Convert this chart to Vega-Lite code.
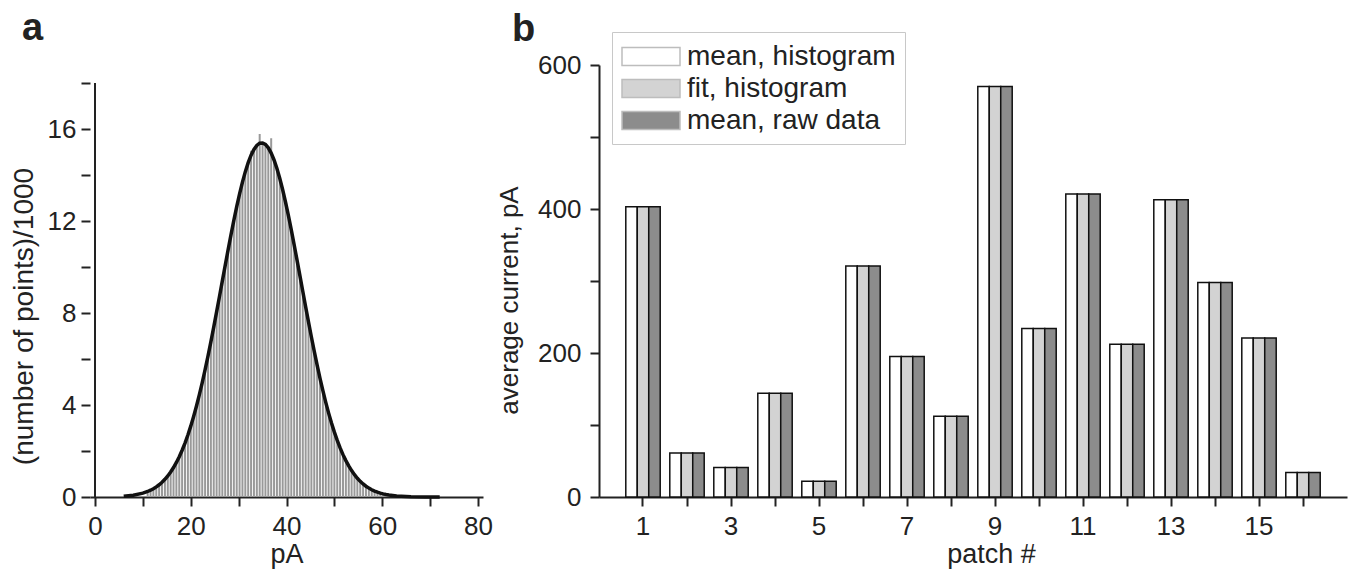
{
  "$schema": "https://vega.github.io/schema/vega-lite/v6.json",
  "background": "white",
  "padding": {"left": 10, "top": 10, "right": 5, "bottom": 5},
  "spacing": 3,
  "columns": 2,
  "align": "none",
  "resolve": {"legend": {"color": "independent"}, "scale": {"color": "independent"}},
  "config": {
    "font": "Liberation Sans",
    "view": {"stroke": null},
    "axis": {
      "grid": false,
      "domainColor": "#222", "domainWidth": 2,
      "tickColor": "#222", "tickWidth": 2, "tickSize": 9,
      "labelFont": "Liberation Sans", "labelFontSize": 26, "labelColor": "#222",
      "labelOverlap": false, "labelFlush": false,
      "titleFont": "Liberation Sans", "titleFontSize": 27, "titleFontWeight": "normal", "titleColor": "#222"
    },
    "title": {"font": "Liberation Sans", "fontSize": 38, "fontWeight": "bold", "color": "#222", "anchor": "start", "frame": "group", "baseline": "alphabetic"}
  },
  "datasets": {
    "hist": [
      {"pA": 11.0, "count": 0.24}, {"pA": 11.6, "count": 0.30}, {"pA": 12.2, "count": 0.36}, {"pA": 12.8, "count": 0.44},
      {"pA": 13.4, "count": 0.53}, {"pA": 14.0, "count": 0.64}, {"pA": 14.6, "count": 0.77}, {"pA": 15.2, "count": 0.92},
      {"pA": 15.8, "count": 1.08}, {"pA": 16.4, "count": 1.28}, {"pA": 17.0, "count": 1.50}, {"pA": 17.6, "count": 1.75},
      {"pA": 18.2, "count": 2.03}, {"pA": 18.8, "count": 2.35}, {"pA": 19.4, "count": 2.70}, {"pA": 20.0, "count": 3.08},
      {"pA": 20.6, "count": 3.50}, {"pA": 21.2, "count": 3.96}, {"pA": 21.8, "count": 4.45}, {"pA": 22.4, "count": 4.98},
      {"pA": 23.0, "count": 5.54}, {"pA": 23.6, "count": 6.13}, {"pA": 24.2, "count": 6.75}, {"pA": 24.8, "count": 7.39},
      {"pA": 25.4, "count": 8.05}, {"pA": 26.0, "count": 8.72}, {"pA": 26.6, "count": 9.40}, {"pA": 27.2, "count": 10.07},
      {"pA": 27.8, "count": 10.75}, {"pA": 28.4, "count": 11.40}, {"pA": 29.0, "count": 12.03}, {"pA": 29.6, "count": 12.63},
      {"pA": 30.2, "count": 13.18}, {"pA": 30.8, "count": 13.69}, {"pA": 31.4, "count": 14.15}, {"pA": 32.0, "count": 14.54},
      {"pA": 32.6, "count": 15.05}, {"pA": 33.2, "count": 15.11}, {"pA": 33.8, "count": 15.29}, {"pA": 34.4, "count": 15.78},
      {"pA": 35.0, "count": 15.40}, {"pA": 35.6, "count": 15.33}, {"pA": 36.2, "count": 15.18}, {"pA": 36.8, "count": 15.60},
      {"pA": 37.4, "count": 14.65}, {"pA": 38.0, "count": 14.28}, {"pA": 38.6, "count": 13.85}, {"pA": 39.2, "count": 13.36},
      {"pA": 39.8, "count": 12.82}, {"pA": 40.4, "count": 12.23}, {"pA": 41.0, "count": 11.61}, {"pA": 41.6, "count": 10.96},
      {"pA": 42.2, "count": 10.30}, {"pA": 42.8, "count": 9.62}, {"pA": 43.4, "count": 8.94}, {"pA": 44.0, "count": 8.27},
      {"pA": 44.6, "count": 7.60}, {"pA": 45.2, "count": 6.96}, {"pA": 45.8, "count": 6.33}, {"pA": 46.4, "count": 5.73},
      {"pA": 47.0, "count": 5.16}, {"pA": 47.6, "count": 4.62}, {"pA": 48.2, "count": 4.12}, {"pA": 48.8, "count": 3.65},
      {"pA": 49.4, "count": 3.22}, {"pA": 50.0, "count": 2.82}, {"pA": 50.6, "count": 2.46}, {"pA": 51.2, "count": 2.13},
      {"pA": 51.8, "count": 1.84}, {"pA": 52.4, "count": 1.58}, {"pA": 53.0, "count": 1.35}, {"pA": 53.6, "count": 1.15},
      {"pA": 54.2, "count": 0.97}, {"pA": 54.8, "count": 0.82}, {"pA": 55.4, "count": 0.68}, {"pA": 56.0, "count": 0.57},
      {"pA": 56.6, "count": 0.47}, {"pA": 57.2, "count": 0.39}, {"pA": 57.8, "count": 0.32}, {"pA": 58.4, "count": 0.26},
      {"pA": 59.0, "count": 0.21}, {"pA": 59.6, "count": 0.17}, {"pA": 60.2, "count": 0.14}, {"pA": 60.8, "count": 0.11},
      {"pA": 61.4, "count": 0.09}
    ],
    "fit": [
      {"pA": 6, "fit": 0.035}, {"pA": 8, "fit": 0.079}, {"pA": 10, "fit": 0.168},
      {"pA": 11.0, "fit": 0.240}, {"pA": 11.6, "fit": 0.295}, {"pA": 12.2, "fit": 0.361}, {"pA": 12.8, "fit": 0.440},
      {"pA": 13.4, "fit": 0.532}, {"pA": 14.0, "fit": 0.641}, {"pA": 14.6, "fit": 0.768}, {"pA": 15.2, "fit": 0.915},
      {"pA": 15.8, "fit": 1.085}, {"pA": 16.4, "fit": 1.280}, {"pA": 17.0, "fit": 1.502}, {"pA": 17.6, "fit": 1.751},
      {"pA": 18.2, "fit": 2.032}, {"pA": 18.8, "fit": 2.347}, {"pA": 19.4, "fit": 2.697}, {"pA": 20.0, "fit": 3.080},
      {"pA": 20.6, "fit": 3.500}, {"pA": 21.2, "fit": 3.956}, {"pA": 21.8, "fit": 4.449}, {"pA": 22.4, "fit": 4.976},
      {"pA": 23.0, "fit": 5.536}, {"pA": 23.6, "fit": 6.126}, {"pA": 24.2, "fit": 6.745}, {"pA": 24.8, "fit": 7.386},
      {"pA": 25.4, "fit": 8.047}, {"pA": 26.0, "fit": 8.718}, {"pA": 26.6, "fit": 9.396}, {"pA": 27.2, "fit": 10.073},
      {"pA": 27.8, "fit": 10.745}, {"pA": 28.4, "fit": 11.398}, {"pA": 29.0, "fit": 12.027}, {"pA": 29.6, "fit": 12.625},
      {"pA": 30.2, "fit": 13.183}, {"pA": 30.8, "fit": 13.692}, {"pA": 31.4, "fit": 14.146}, {"pA": 32.0, "fit": 14.538},
      {"pA": 32.6, "fit": 14.861}, {"pA": 33.2, "fit": 15.113}, {"pA": 33.8, "fit": 15.287}, {"pA": 34.4, "fit": 15.382},
      {"pA": 35.0, "fit": 15.395}, {"pA": 35.6, "fit": 15.328}, {"pA": 36.2, "fit": 15.180}, {"pA": 36.8, "fit": 14.954},
      {"pA": 37.4, "fit": 14.653}, {"pA": 38.0, "fit": 14.283}, {"pA": 38.6, "fit": 13.849}, {"pA": 39.2, "fit": 13.358},
      {"pA": 39.8, "fit": 12.816}, {"pA": 40.4, "fit": 12.231}, {"pA": 41.0, "fit": 11.612}, {"pA": 41.6, "fit": 10.963},
      {"pA": 42.2, "fit": 10.298}, {"pA": 42.8, "fit": 9.623}, {"pA": 43.4, "fit": 8.944}, {"pA": 44.0, "fit": 8.268},
      {"pA": 44.6, "fit": 7.604}, {"pA": 45.2, "fit": 6.956}, {"pA": 45.8, "fit": 6.331}, {"pA": 46.4, "fit": 5.730},
      {"pA": 47.0, "fit": 5.159}, {"pA": 47.6, "fit": 4.622}, {"pA": 48.2, "fit": 4.117}, {"pA": 48.8, "fit": 3.648},
      {"pA": 49.4, "fit": 3.217}, {"pA": 50.0, "fit": 2.820}, {"pA": 50.6, "fit": 2.459}, {"pA": 51.2, "fit": 2.134},
      {"pA": 51.8, "fit": 1.842}, {"pA": 52.4, "fit": 1.582}, {"pA": 53.0, "fit": 1.351}, {"pA": 53.6, "fit": 1.147},
      {"pA": 54.2, "fit": 0.970}, {"pA": 54.8, "fit": 0.815}, {"pA": 55.4, "fit": 0.681}, {"pA": 56.0, "fit": 0.567},
      {"pA": 56.6, "fit": 0.469}, {"pA": 57.2, "fit": 0.386}, {"pA": 57.8, "fit": 0.316}, {"pA": 58.4, "fit": 0.257},
      {"pA": 59.0, "fit": 0.208}, {"pA": 59.6, "fit": 0.168}, {"pA": 60.2, "fit": 0.135}, {"pA": 60.8, "fit": 0.107},
      {"pA": 61.4, "fit": 0.085}, {"pA": 63, "fit": 0.045}, {"pA": 66, "fit": 0.012}, {"pA": 69, "fit": 0.003}, {"pA": 72, "fit": 0.001}
    ],
    "patches": [
      {"patch": 1, "series": "mean, histogram", "current": 403}, {"patch": 1, "series": "fit, histogram", "current": 403}, {"patch": 1, "series": "mean, raw data", "current": 403},
      {"patch": 2, "series": "mean, histogram", "current": 61}, {"patch": 2, "series": "fit, histogram", "current": 61}, {"patch": 2, "series": "mean, raw data", "current": 61},
      {"patch": 3, "series": "mean, histogram", "current": 41}, {"patch": 3, "series": "fit, histogram", "current": 41}, {"patch": 3, "series": "mean, raw data", "current": 41},
      {"patch": 4, "series": "mean, histogram", "current": 144}, {"patch": 4, "series": "fit, histogram", "current": 144}, {"patch": 4, "series": "mean, raw data", "current": 144},
      {"patch": 5, "series": "mean, histogram", "current": 22}, {"patch": 5, "series": "fit, histogram", "current": 22}, {"patch": 5, "series": "mean, raw data", "current": 22},
      {"patch": 6, "series": "mean, histogram", "current": 321}, {"patch": 6, "series": "fit, histogram", "current": 321}, {"patch": 6, "series": "mean, raw data", "current": 321},
      {"patch": 7, "series": "mean, histogram", "current": 195}, {"patch": 7, "series": "fit, histogram", "current": 195}, {"patch": 7, "series": "mean, raw data", "current": 195},
      {"patch": 8, "series": "mean, histogram", "current": 112}, {"patch": 8, "series": "fit, histogram", "current": 112}, {"patch": 8, "series": "mean, raw data", "current": 112},
      {"patch": 9, "series": "mean, histogram", "current": 570}, {"patch": 9, "series": "fit, histogram", "current": 570}, {"patch": 9, "series": "mean, raw data", "current": 570},
      {"patch": 10, "series": "mean, histogram", "current": 234}, {"patch": 10, "series": "fit, histogram", "current": 234}, {"patch": 10, "series": "mean, raw data", "current": 234},
      {"patch": 11, "series": "mean, histogram", "current": 421}, {"patch": 11, "series": "fit, histogram", "current": 421}, {"patch": 11, "series": "mean, raw data", "current": 421},
      {"patch": 12, "series": "mean, histogram", "current": 212}, {"patch": 12, "series": "fit, histogram", "current": 212}, {"patch": 12, "series": "mean, raw data", "current": 212},
      {"patch": 13, "series": "mean, histogram", "current": 413}, {"patch": 13, "series": "fit, histogram", "current": 413}, {"patch": 13, "series": "mean, raw data", "current": 413},
      {"patch": 14, "series": "mean, histogram", "current": 298}, {"patch": 14, "series": "fit, histogram", "current": 298}, {"patch": 14, "series": "mean, raw data", "current": 298},
      {"patch": 15, "series": "mean, histogram", "current": 221}, {"patch": 15, "series": "fit, histogram", "current": 221}, {"patch": 15, "series": "mean, raw data", "current": 221},
      {"patch": 16, "series": "mean, histogram", "current": 34}, {"patch": 16, "series": "fit, histogram", "current": 34}, {"patch": 16, "series": "mean, raw data", "current": 34}
    ]
  },
  "concat": [
    {
      "width": 393,
      "height": 432,
      "title": {"text": "a", "dx": -68, "offset": 17},
      "layer": [
        {
          "data": {"name": "hist"},
          "mark": {"type": "bar", "width": 2, "color": "#999999"},
          "encoding": {
            "x": {"field": "pA", "type": "quantitative",
                  "scale": {"domain": [0, 80], "nice": false, "zero": false},
                  "axis": {"values": [0, 10, 20, 30, 40, 50, 60, 70, 80], "labelExpr": "datum.value % 20 === 0 ? datum.label : ''", "title": "pA", "labelPadding": 7, "titlePadding": 2}},
            "y": {"field": "count", "type": "quantitative",
                  "scale": {"domain": [0, 18.783], "nice": false},
                  "axis": {"values": [0, 2, 4, 6, 8, 10, 12, 14, 16, 18], "domain": false, "labelExpr": "datum.value % 4 === 0 ? datum.label : ''", "title": "(number of points)/1000", "titleFontSize": 28, "titleY": 251, "labelPadding": 5, "titlePadding": 9}}
          }
        },
        {
          "data": {"name": "fit"},
          "mark": {"type": "line", "color": "#111111", "strokeWidth": 3.5},
          "encoding": {
            "x": {"field": "pA", "type": "quantitative"},
            "y": {"field": "fit", "type": "quantitative"}
          }
        },
        {
          "data": {"values": [{}]},
          "mark": {"type": "rule", "color": "#222222", "strokeWidth": 2},
          "encoding": {
            "x": {"datum": 0, "type": "quantitative"},
            "y": {"datum": 0, "type": "quantitative"},
            "y2": {"datum": 18}
          }
        }
      ]
    },
    {
      "width": 748,
      "height": 432,
      "title": {"text": "b", "dx": -87, "offset": -17},
      "data": {"name": "patches"},
      "mark": {"type": "bar", "stroke": "#111111", "strokeWidth": 1.5},
      "encoding": {
        "x": {"field": "patch", "type": "ordinal",
              "scale": {"paddingInner": 0.218, "paddingOuter": 0.609},
              "axis": {"labelAngle": 0, "ticks": true, "bandPosition": 0.5, "labelExpr": "datum.value % 2 === 1 ? datum.label : ''", "title": "patch #", "titleX": 392, "labelPadding": 7, "titlePadding": 2}},
        "xOffset": {"field": "series", "type": "nominal", "sort": ["mean, histogram", "fit, histogram", "mean, raw data"],
                    "scale": {"paddingInner": 0, "paddingOuter": 0}},
        "y": {"field": "current", "type": "quantitative",
              "scale": {"domain": [0, 600], "nice": false},
              "axis": {"values": [0, 100, 200, 300, 400, 500, 600], "labelExpr": "datum.value % 200 === 0 ? datum.label : ''", "title": "average current, pA", "titleFontSize": 26, "titleY": 235, "labelPadding": 9, "titlePadding": 15}},
        "color": {"field": "series", "type": "nominal",
                  "scale": {"domain": ["mean, histogram", "fit, histogram", "mean, raw data"], "range": ["#ffffff", "#d3d3d3", "#8c8c8c"]},
                  "legend": {
                    "orient": "none", "legendX": 13, "legendY": -33, "title": null, "direction": "vertical",
                    "symbolType": "M-2,-0.62H2V0.62H-2Z", "symbolSize": 841, "symbolOffset": 14.5,
                    "labelFont": "Liberation Sans", "labelFontSize": 28, "labelColor": "#222", "labelOffset": 20.5, "labelLimit": 400,
                    "padding": 9, "rowPadding": 2,
                    "strokeColor": "#c8c8c8", "fillColor": "white",
                    "symbolStrokeColor": "#bdbdbd", "symbolStrokeWidth": 1.5,
                    "encode": {"symbols": {"update": {"stroke": {"value": "#bdbdbd"}, "strokeWidth": {"value": 1.5}}}}
                  }}
      }
    }
  ]
}
